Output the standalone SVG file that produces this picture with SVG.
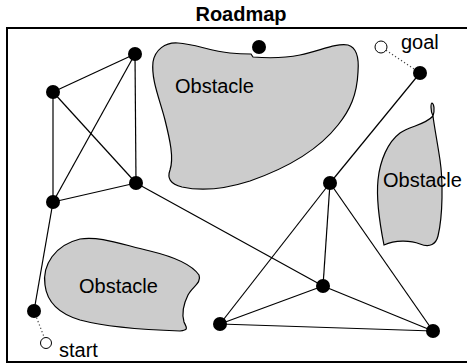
<svg xmlns="http://www.w3.org/2000/svg" width="467" height="364" viewBox="0 0 467 364">
  <style>
    .title { font-family: "Liberation Sans", Arial, sans-serif; font-size: 20px; font-weight: bold; fill: #000; }
    .label { font-family: "Liberation Sans", Arial, sans-serif; font-size: 20px; fill: #000; }
    .obstacle { fill: #cccccc; stroke: #000; stroke-width: 1.2; }
    .edge { stroke: #000; stroke-width: 1.2; fill: none; }
    .link { stroke: #444; stroke-width: 1.2; stroke-dasharray: 1.2 2.4; fill: none; }
    .node { fill: #000; }
    .terminal { fill: #fff; stroke: #000; stroke-width: 1; }
  </style>

  <!-- title and frame -->
  <text class="title" x="241" y="21" text-anchor="middle">Roadmap</text>
  <rect x="7" y="28" width="461" height="334" fill="none" stroke="#000" stroke-width="2"/>

  <!-- obstacles -->
  <g id="obstacle-top">
    <path class="obstacle" d="M 153,62 C 155,50 165,42 178,43 C 195,44 210,51 230,53 C 240,54 246,54 251,54 L 253,57 C 265,58 285,58 300,55 C 320,51 335,43 348,45 C 358,48 359,60 358,72 C 357,95 350,110 338,125 C 320,148 290,167 250,181 C 225,189 200,191 182,187 C 170,184 167,178 170,170 C 174,158 170,140 165,120 C 160,100 151,80 153,62 Z"/>
    <text class="label" x="175" y="93">Obstacle</text>
  </g>
  <g id="obstacle-right">
    <path class="obstacle" d="M 433,116 C 430,110 431,103 432,103 C 434,104 435,110 433,116 C 425,125 410,126 400,133 C 388,142 380,160 378,180 C 376,200 380,225 384,245 C 395,240 410,240 420,244 C 430,248 436,244 438,236 C 443,215 443,180 440,160 C 437,140 434,125 433,116 Z"/>
    <text class="label" x="383" y="187">Obstacle</text>
  </g>
  <g id="obstacle-bottom">
    <path class="obstacle" d="M 45,285 C 42,265 55,245 80,239 C 100,236 120,244 150,251 C 175,257 192,265 199,275 C 202,283 192,287 188,295 C 183,305 182,315 184,322 C 186,327 190,330 180,331 C 150,330 110,328 80,320 C 60,314 47,302 45,285 Z"/>
    <text class="label" x="79" y="293">Obstacle</text>
  </g>

  <!-- roadmap edges -->
  <g id="connectors">
    <line class="edge" x1="135" y1="54" x2="53" y2="92"/>
    <line class="edge" x1="135" y1="54" x2="53" y2="202"/>
    <line class="edge" x1="135" y1="54" x2="136" y2="183"/>
    <line class="edge" x1="53" y1="92" x2="53" y2="202"/>
    <line class="edge" x1="53" y1="92" x2="136" y2="183"/>
    <line class="edge" x1="53" y1="202" x2="136" y2="183"/>
    <line class="edge" x1="53" y1="202" x2="34" y2="311"/>
    <line class="edge" x1="136" y1="183" x2="323" y2="286"/>
    <line class="edge" x1="420" y1="73" x2="330" y2="183"/>
    <line class="edge" x1="330" y1="183" x2="220" y2="324"/>
    <line class="edge" x1="330" y1="183" x2="323" y2="286"/>
    <line class="edge" x1="330" y1="183" x2="433" y2="331"/>
    <line class="edge" x1="323" y1="286" x2="220" y2="324"/>
    <line class="edge" x1="323" y1="286" x2="433" y2="331"/>
    <line class="edge" x1="220" y1="324" x2="433" y2="331"/>
    <line class="link" x1="34" y1="311" x2="46" y2="342"/>
    <line class="link" x1="420" y1="73" x2="381" y2="47"/>
  </g>

  <!-- roadmap vertices -->
  <g id="n1"><circle class="node" cx="135" cy="54" r="7"/></g>
  <g id="n2"><circle class="node" cx="53" cy="92" r="7"/></g>
  <g id="n3"><circle class="node" cx="136" cy="183" r="7"/></g>
  <g id="n4"><circle class="node" cx="53" cy="202" r="7"/></g>
  <g id="n5"><circle class="node" cx="34" cy="311" r="7"/></g>
  <g id="n6"><circle class="node" cx="259" cy="47" r="7"/></g>
  <g id="n7"><circle class="node" cx="420" cy="73" r="7"/></g>
  <g id="n8"><circle class="node" cx="330" cy="183" r="7"/></g>
  <g id="n9"><circle class="node" cx="323" cy="286" r="7"/></g>
  <g id="n10"><circle class="node" cx="433" cy="331" r="7"/></g>
  <g id="n11"><circle class="node" cx="220" cy="324" r="7"/></g>

  <!-- start and goal -->
  <g id="start">
    <circle class="terminal" cx="46" cy="343" r="5.5"/>
    <text class="label" x="59" y="357">start</text>
  </g>
  <g id="goal">
    <circle class="terminal" cx="381" cy="47" r="6"/>
    <text class="label" x="401" y="49">goal</text>
  </g>
</svg>
